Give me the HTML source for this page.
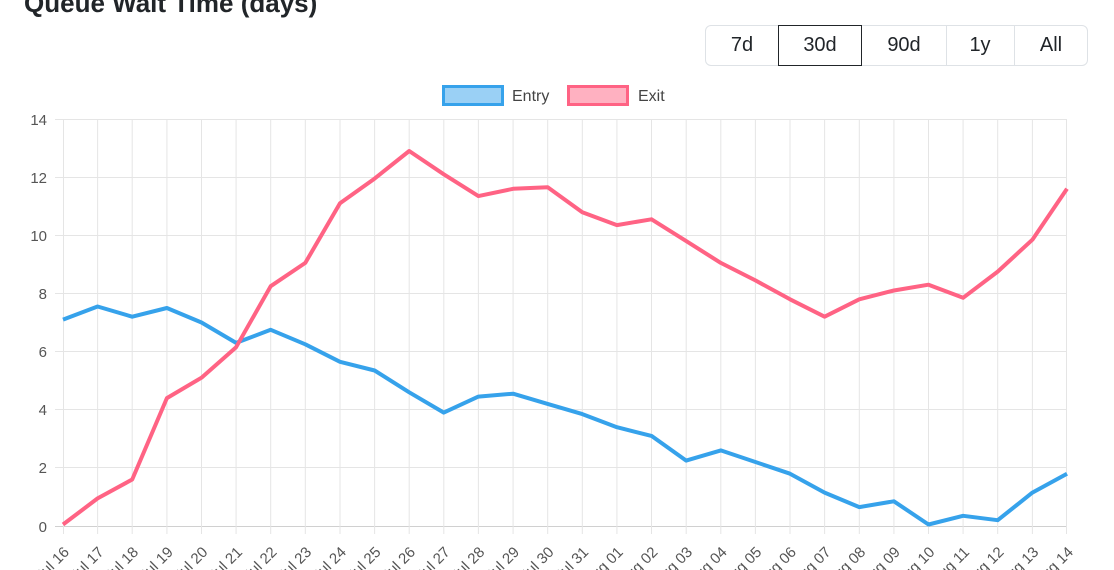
<!DOCTYPE html>
<html><head><meta charset="utf-8"><style>
body{margin:0;width:1114px;height:570px;overflow:hidden;background:#fff;font-family:"Liberation Sans",sans-serif;}
.title{position:absolute;left:24px;top:-12px;font-size:26px;font-weight:bold;color:#212529;}
.grp{position:absolute;left:705px;top:25px;width:381px;height:39px;border:1px solid #dee2e6;border-radius:6px;}
.b{position:absolute;top:0;height:39px;line-height:39px;text-align:center;font-size:20px;color:#212529;}
</style></head><body>
<div class="title">Queue Wait Time (days)</div>
<div class="grp">
<div class="b" style="left:0;width:72px">7d</div>
<div class="b" style="left:72px;width:82px;border:1px solid #212529;top:-1px;height:39px">30d</div>
<div class="b" style="left:156px;width:84px;border-right:1px solid #dee2e6">90d</div>
<div class="b" style="left:240px;width:68px;border-right:1px solid #dee2e6">1y</div>
<div class="b" style="left:309px;width:72px">All</div>
</div>
<svg width="1114" height="570" style="position:absolute;left:0;top:0" font-family="Liberation Sans, sans-serif">
<g stroke="#e5e5e5" stroke-width="1">
<line x1="55" x2="1067" y1="119.5" y2="119.5"/><line x1="55" x2="1067" y1="177.5" y2="177.5"/><line x1="55" x2="1067" y1="235.5" y2="235.5"/><line x1="55" x2="1067" y1="293.5" y2="293.5"/><line x1="55" x2="1067" y1="351.5" y2="351.5"/><line x1="55" x2="1067" y1="409.5" y2="409.5"/><line x1="55" x2="1067" y1="467.5" y2="467.5"/><line x1="55" x2="1067" y1="526.5" y2="526.5" stroke="#d0d0d0"/>
<line x1="63.5" x2="63.5" y1="119" y2="534"/><line x1="97.6" x2="97.6" y1="119" y2="534"/><line x1="132.2" x2="132.2" y1="119" y2="534"/><line x1="166.9" x2="166.9" y1="119" y2="534"/><line x1="201.5" x2="201.5" y1="119" y2="534"/><line x1="236.1" x2="236.1" y1="119" y2="534"/><line x1="270.7" x2="270.7" y1="119" y2="534"/><line x1="305.3" x2="305.3" y1="119" y2="534"/><line x1="340" x2="340" y1="119" y2="534"/><line x1="374.6" x2="374.6" y1="119" y2="534"/><line x1="409.2" x2="409.2" y1="119" y2="534"/><line x1="443.8" x2="443.8" y1="119" y2="534"/><line x1="478.4" x2="478.4" y1="119" y2="534"/><line x1="513.1" x2="513.1" y1="119" y2="534"/><line x1="547.7" x2="547.7" y1="119" y2="534"/><line x1="582.3" x2="582.3" y1="119" y2="534"/><line x1="616.9" x2="616.9" y1="119" y2="534"/><line x1="651.5" x2="651.5" y1="119" y2="534"/><line x1="686.2" x2="686.2" y1="119" y2="534"/><line x1="720.8" x2="720.8" y1="119" y2="534"/><line x1="755.4" x2="755.4" y1="119" y2="534"/><line x1="790" x2="790" y1="119" y2="534"/><line x1="824.6" x2="824.6" y1="119" y2="534"/><line x1="859.3" x2="859.3" y1="119" y2="534"/><line x1="893.9" x2="893.9" y1="119" y2="534"/><line x1="928.5" x2="928.5" y1="119" y2="534"/><line x1="963.1" x2="963.1" y1="119" y2="534"/><line x1="997.7" x2="997.7" y1="119" y2="534"/><line x1="1032.4" x2="1032.4" y1="119" y2="534"/><line x1="1066.5" x2="1066.5" y1="119" y2="534"/>
</g>
<g font-size="15" fill="#555" text-anchor="end">
<text x="47" y="125">14</text><text x="47" y="183">12</text><text x="47" y="241">10</text><text x="47" y="299">8</text><text x="47" y="357">6</text><text x="47" y="415">4</text><text x="47" y="473">2</text><text x="47" y="532">0</text>
</g>
<g font-size="15" fill="#555" text-anchor="end">
<text transform="translate(70,553) rotate(-45)">Jul 16</text><text transform="translate(104.6,553) rotate(-45)">Jul 17</text><text transform="translate(139.2,553) rotate(-45)">Jul 18</text><text transform="translate(173.9,553) rotate(-45)">Jul 19</text><text transform="translate(208.5,553) rotate(-45)">Jul 20</text><text transform="translate(243.1,553) rotate(-45)">Jul 21</text><text transform="translate(277.7,553) rotate(-45)">Jul 22</text><text transform="translate(312.3,553) rotate(-45)">Jul 23</text><text transform="translate(347,553) rotate(-45)">Jul 24</text><text transform="translate(381.6,553) rotate(-45)">Jul 25</text><text transform="translate(416.2,553) rotate(-45)">Jul 26</text><text transform="translate(450.8,553) rotate(-45)">Jul 27</text><text transform="translate(485.4,553) rotate(-45)">Jul 28</text><text transform="translate(520.1,553) rotate(-45)">Jul 29</text><text transform="translate(554.7,553) rotate(-45)">Jul 30</text><text transform="translate(589.3,553) rotate(-45)">Jul 31</text><text transform="translate(623.9,553) rotate(-45)">Aug 01</text><text transform="translate(658.5,553) rotate(-45)">Aug 02</text><text transform="translate(693.2,553) rotate(-45)">Aug 03</text><text transform="translate(727.8,553) rotate(-45)">Aug 04</text><text transform="translate(762.4,553) rotate(-45)">Aug 05</text><text transform="translate(797,553) rotate(-45)">Aug 06</text><text transform="translate(831.6,553) rotate(-45)">Aug 07</text><text transform="translate(866.3,553) rotate(-45)">Aug 08</text><text transform="translate(900.9,553) rotate(-45)">Aug 09</text><text transform="translate(935.5,553) rotate(-45)">Aug 10</text><text transform="translate(970.1,553) rotate(-45)">Aug 11</text><text transform="translate(1004.7,553) rotate(-45)">Aug 12</text><text transform="translate(1039.4,553) rotate(-45)">Aug 13</text><text transform="translate(1074,553) rotate(-45)">Aug 14</text>
</g>
<polyline fill="none" stroke="#36a2eb" stroke-width="4" stroke-linejoin="round" points="63,319.6 97.6,306.5 132.2,316.7 166.9,308 201.5,322.5 236.1,342.9 270.7,329.8 305.3,344.3 340,361.8 374.6,370.5 409.2,392.3 443.8,412.6 478.4,396.6 513.1,393.7 547.7,403.9 582.3,414.1 616.9,427.2 651.5,435.9 686.2,460.6 720.8,450.4 755.4,462 790,473.7 824.6,492.6 859.3,507.1 893.9,501.3 928.5,524.5 963.1,515.8 997.7,520.2 1032.4,492.6 1067,473.7"/>
<polyline fill="none" stroke="#ff6384" stroke-width="4" stroke-linejoin="round" points="63,524.5 97.6,498.4 132.2,479.5 166.9,398.1 201.5,377.7 236.1,347.2 270.7,286.2 305.3,262.9 340,203.3 374.6,178.6 409.2,151 443.8,174.3 478.4,196.1 513.1,188.8 547.7,187.3 582.3,212.2 616.9,225.1 651.5,219.3 686.2,241.1 720.8,262.9 755.4,280.4 790,299.3 824.6,316.7 859.3,299.3 893.9,290.5 928.5,284.7 963.1,297.8 997.7,271.6 1032.4,239.7 1067,188.8"/>
<rect x="443.5" y="86.5" width="59" height="18" fill="rgba(54,162,235,0.5)" stroke="#36a2eb" stroke-width="3"/>
<text x="512" y="101" font-size="16" fill="#444">Entry</text>
<rect x="568.5" y="86.5" width="59" height="18" fill="rgba(255,99,132,0.5)" stroke="#ff6384" stroke-width="3"/>
<text x="638" y="101" font-size="16" fill="#444">Exit</text>
</svg>
</body></html>
